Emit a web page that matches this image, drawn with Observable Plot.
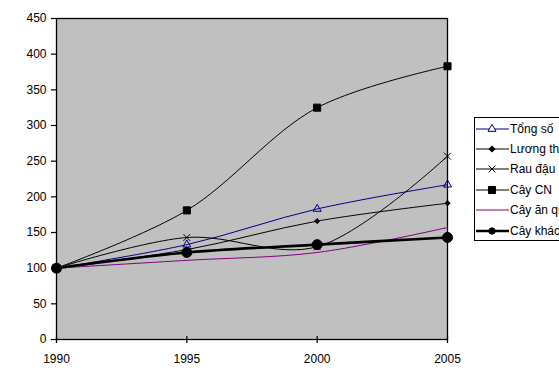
<!DOCTYPE html>
<html>
<head>
<meta charset="utf-8">
<script src="https://cdn.jsdelivr.net/npm/d3@7"></script>
<script src="https://cdn.jsdelivr.net/npm/@observablehq/plot@0.6"></script>
<style>
  html, body { margin: 0; padding: 0; background: white; }
  #wrap { position: relative; width: 559px; height: 385px; overflow: hidden; font-family: "Liberation Sans", Arial, sans-serif; }
  #legend { position: absolute; left: 474px; top: 117px; width: 110px; height: 124px; border: 1px solid black; background: white; box-sizing: border-box; }
  .row { position: absolute; left: 0; height: 20px; display: flex; align-items: center; font-size: 12px; white-space: nowrap; color: black; }
  .row svg { display: block; }
</style>
</head>
<body>
<div id="wrap"><div id="chart"></div><div id="legend"></div></div>
<script>
const years = [1990, 1995, 2000, 2005];
const seriesNames = ["Tổng số", "Lương thực", "Rau đậu", "Cây CN", "Cây ăn quả", "Cây khác"];
const tongSo   = [100, 133, 183, 217];
const luongThuc = [100, 126, 166, 191];
const rauDau   = [100, 143, 130, 257];
const cayCN    = [100, 181, 325, 383];
const cayAnQua = [100, 111, 122, 157];
const cayKhac  = [100, 122, 133, 143];
const yTicks = [0, 50, 100, 150, 200, 250, 300, 350, 400, 450];

const seriesValues = [tongSo, luongThuc, rauDau, cayCN, cayAnQua, cayKhac];
const styles = [
  {color: "#000080", width: 1, symbol: "triangle", r: 3, fill: "none"},
  {color: "black", width: 1, symbol: "diamond2", r: 2.3, fill: "black"},
  {color: "black", width: 1, symbol: "times", r: 3.2, fill: "none"},
  {color: "black", width: 1, symbol: "square", r: 4, fill: "black"},
  {color: "#800080", width: 1, symbol: null},
  {color: "black", width: 2.6, symbol: "circle", r: 5, fill: "black"}
];

const table = seriesNames.flatMap((name, i) => years.map((year, j) => ({series: name, year, value: seriesValues[i][j]})));

const seriesMarks = seriesNames.flatMap((name, i) => {
  const s = styles[i];
  const data = table.filter(d => d.series === name);
  const m = [Plot.line(data, {x: "year", y: "value", stroke: s.color, strokeWidth: s.width, curve: "catmull-rom"})];
  if (s.symbol) {
    m.push(Plot.dot(data, {x: "year", y: "value", symbol: s.symbol, r: s.r,
      fill: s.fill === "none" ? "none" : s.color, stroke: s.color, strokeWidth: 1}));
  }
  return m;
});

const chart = Plot.plot({
  width: 559, height: 385,
  marginLeft: 56, marginRight: 112, marginTop: 18, marginBottom: 46,
  style: {fontFamily: "'Liberation Sans', Arial, sans-serif", fontSize: "12px", color: "black", background: "white", overflow: "visible"},
  x: {domain: [1990, 2005]},
  y: {domain: [0, 450]},
  marks: [
    Plot.frame({fill: "#c0c0c0", stroke: "none"}),
    ...seriesMarks,
    Plot.frame({stroke: "black", strokeWidth: 1.3}),
    Plot.axisY({ticks: yTicks, tickSize: 5, tickPadding: 5, label: null, stroke: "black", strokeWidth: 1.2, fill: "black"}),
    Plot.axisX({ticks: years, tickSize: 7, dy: -3, tickFormat: () => "", label: null, stroke: "black", strokeWidth: 1.2}),
    Plot.axisX({ticks: years, tickSize: 0, tickPadding: 15, tickFormat: d => String(d), label: null, fill: "black"})
  ]
});
document.getElementById("chart").appendChild(chart);

// Legend
const legend = d3.select("#legend");
const symMap = {triangle: d3.symbolTriangle, diamond2: d3.symbolSquare, times: d3.symbolTimes, square: d3.symbolSquare, circle: d3.symbolCircle};
seriesNames.forEach((name, i) => {
  const s = styles[i];
  const row = legend.append("div").attr("class", "row").style("top", (0.5 + i * 20.4) + "px");
  const svg = row.append("svg").attr("width", 35).attr("height", 20);
  svg.append("line").attr("x1", 1).attr("x2", 34).attr("y1", 10).attr("y2", 10)
    .attr("stroke", s.color).attr("stroke-width", s.width);
  if (s.symbol) {
    const r = i === 5 ? 3.2 : s.r;
    const rot = s.symbol === "diamond2" ? " rotate(45)" : "";
    svg.append("path").attr("transform", "translate(17,10)" + rot)
      .attr("d", d3.symbol(symMap[s.symbol], Math.PI * r * r)())
      .attr("fill", s.fill === "none" ? "white" : s.color).attr("stroke", s.color).attr("stroke-width", 1);
  }
  row.append("span").text(name);
});
</script>
</body>
</html>
